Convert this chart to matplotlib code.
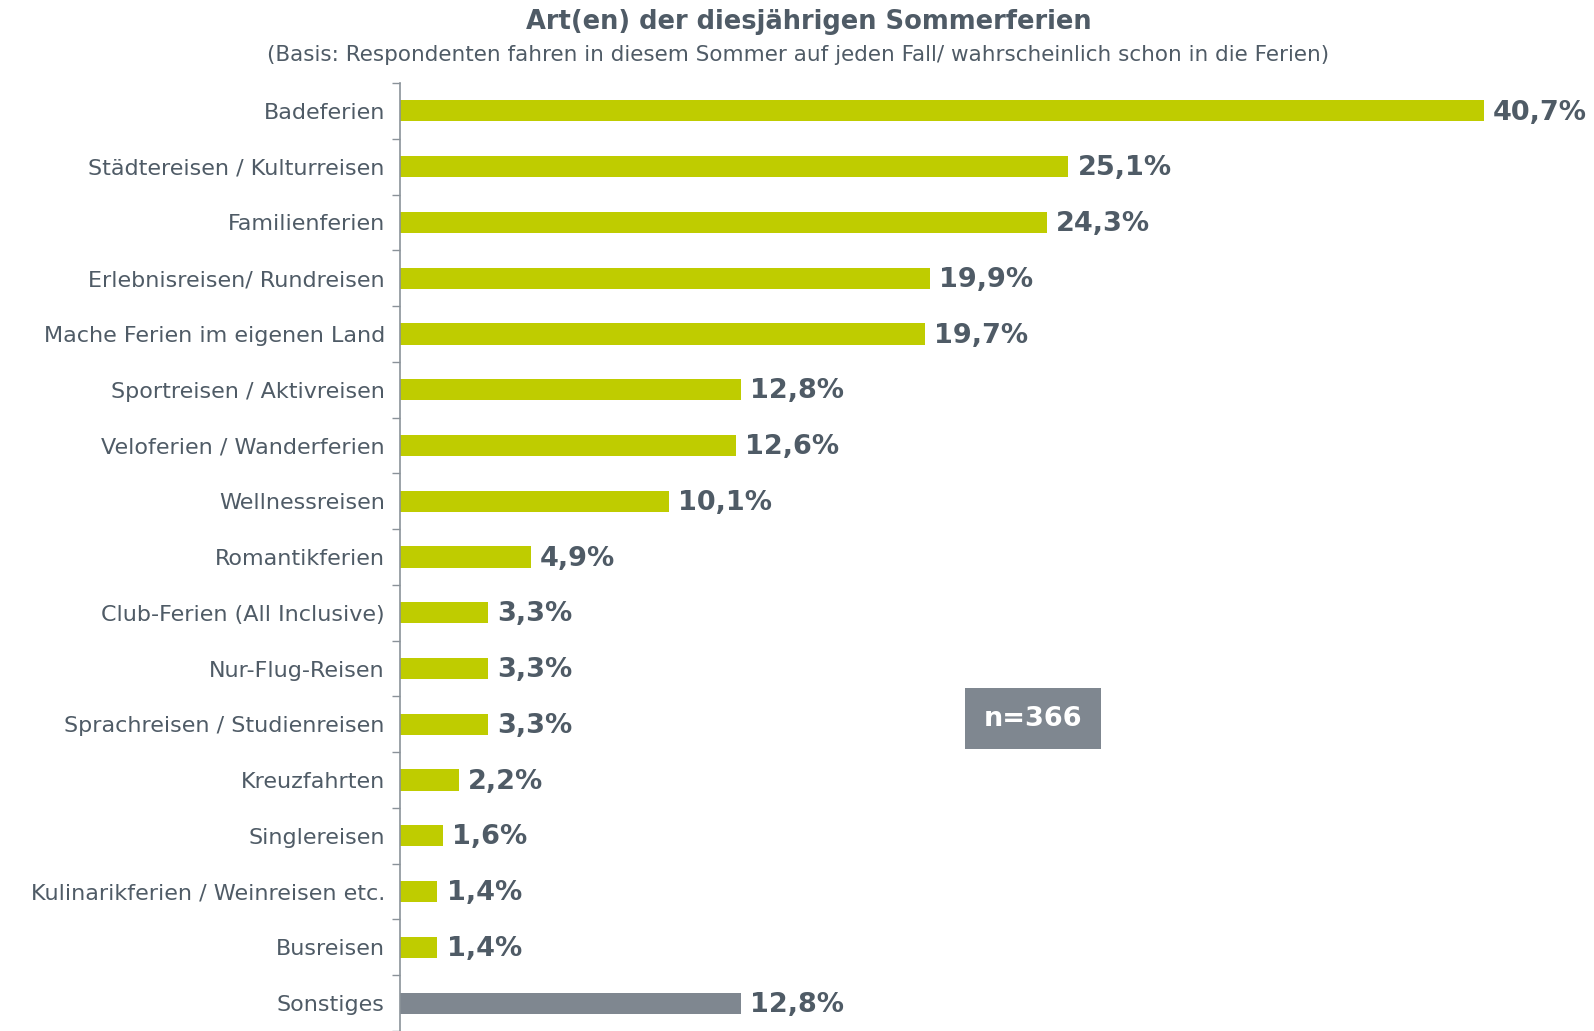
import matplotlib
matplotlib.use("Agg")
import matplotlib.pyplot as plt
from matplotlib.patches import Rectangle
import numpy as np

# Daten aus der Grafik
categories = [
    "Badeferien",
    "Städtereisen / Kulturreisen",
    "Familienferien",
    "Erlebnisreisen/ Rundreisen",
    "Mache Ferien im eigenen Land",
    "Sportreisen / Aktivreisen",
    "Veloferien / Wanderferien",
    "Wellnessreisen",
    "Romantikferien",
    "Club-Ferien (All Inclusive)",
    "Nur-Flug-Reisen",
    "Sprachreisen / Studienreisen",
    "Kreuzfahrten",
    "Singlereisen",
    "Kulinarikferien / Weinreisen etc.",
    "Busreisen",
    "Sonstiges",
]
values = [40.7, 25.1, 24.3, 19.9, 19.7, 12.8, 12.6, 10.1, 4.9,
          3.3, 3.3, 3.3, 2.2, 1.6, 1.4, 1.4, 12.8]

GREEN = "#BFCC00"
GREY = "#7F8790"
TEXT = "#4F5B66"

plt.rcParams["font.family"] = ["DejaVu Sans"]

fig = plt.figure(figsize=(15.94, 10.31), dpi=100)
ax = fig.add_axes([0.251, 0.0, 0.749, 0.9195])

y = np.arange(len(categories))
colors = [GREEN] * (len(categories) - 1) + [GREY]
ax.barh(y, values, height=0.38, color=colors, left=0)

for yi, v in zip(y, values):
    ax.text(v + 0.35, yi + 0.03, f"{v:.1f}%".replace(".", ","), va="center", ha="left",
            fontsize=19.5, fontweight="bold", color=TEXT)

ax.set_xlim(0, 44.85)
ax.set_ylim(16.39, -0.5)

ax.set_yticks(y)
ax.set_yticklabels(categories, fontsize=16, color=TEXT)
ax.tick_params(axis="y", which="major", length=0, pad=11)
ax.set_yticks(np.arange(-0.5, len(categories), 1), minor=True)
ax.tick_params(axis="y", which="minor", length=6, width=1, color="#8A9299", direction="out")
ax.set_xticks([])

for s in ["top", "right", "bottom"]:
    ax.spines[s].set_visible(False)
ax.spines["left"].set_color("#8A9299")
ax.spines["left"].set_linewidth(1.2)

fig.text(0.5075, 0.979, "Art(en) der diesjährigen Sommerferien", ha="center", va="center",
         fontsize=18.5, fontweight="bold", color=TEXT)
fig.text(0.5005, 0.947,
         "(Basis: Respondenten fahren in diesem Sommer auf jeden Fall/ wahrscheinlich schon in die Ferien)",
         ha="center", va="center", fontsize=15.5, color=TEXT)

# n-Box
fig.patches.append(Rectangle((0.6054, 0.2735), 0.0853, 0.0592, transform=fig.transFigure,
                             facecolor=GREY, edgecolor="none"))
fig.text(0.648, 0.3031, "n=366", ha="center", va="center", fontsize=19.5,
         fontweight="bold", color="white")

fig.savefig("out.png", dpi=100)
